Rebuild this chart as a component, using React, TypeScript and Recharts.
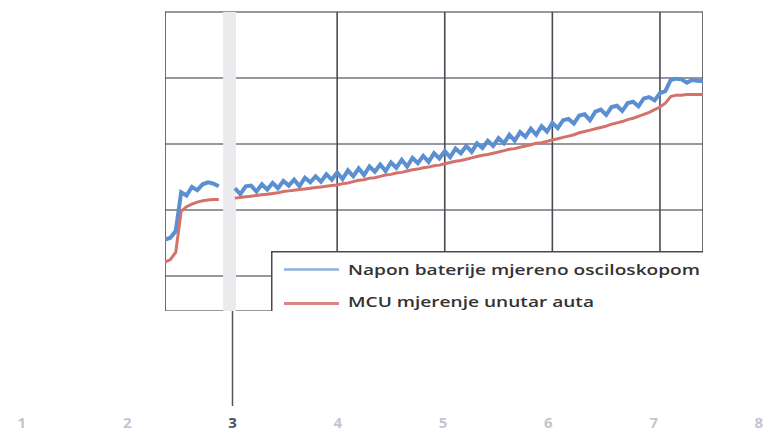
import React from "react";
import { LineChart, Line, XAxis, YAxis, CartesianGrid, ReferenceArea, Legend } from "recharts";

// sample times (x axis units, the visible crop runs from 2.4 to 7.4)
const time = [
  2.4, 2.45, 2.5, 2.55, 2.6, 2.65, 2.7, 2.75, 2.8, 2.85,
  2.9, 2.95, 3.0, 3.05, 3.1, 3.15, 3.2, 3.25, 3.3, 3.35,
  3.4, 3.45, 3.5, 3.55, 3.6, 3.65, 3.7, 3.75, 3.8, 3.85,
  3.9, 3.95, 4.0, 4.05, 4.1, 4.15, 4.2, 4.25, 4.3, 4.35,
  4.4, 4.45, 4.5, 4.55, 4.6, 4.65, 4.7, 4.75, 4.8, 4.85,
  4.9, 4.95, 5.0, 5.05, 5.1, 5.15, 5.2, 5.25, 5.3, 5.35,
  5.4, 5.45, 5.5, 5.55, 5.6, 5.65, 5.7, 5.75, 5.8, 5.85,
  5.9, 5.95, 6.0, 6.05, 6.1, 6.15, 6.2, 6.25, 6.3, 6.35,
  6.4, 6.45, 6.5, 6.55, 6.6, 6.65, 6.7, 6.75, 6.8, 6.85,
  6.9, 6.95, 7.0, 7.05, 7.1, 7.15, 7.2, 7.25, 7.3, 7.35,
  7.4,
];

// battery voltage measured with the oscilloscope (with its periodic dips);
// null where the grey strip hides the trace
const oscilloscope = [
  10.55, 10.58, 10.68, 11.27, 11.22, 11.35, 11.3, 11.39, 11.42, 11.4,
  11.36, null, null, 11.33, 11.24, 11.36, 11.37, 11.28, 11.39, 11.31,
  11.41, 11.33, 11.44, 11.37, 11.46, 11.36, 11.49, 11.42, 11.51, 11.43,
  11.54, 11.46, 11.57, 11.47, 11.6, 11.51, 11.63, 11.53, 11.66, 11.58,
  11.69, 11.59, 11.72, 11.64, 11.76, 11.66, 11.79, 11.71, 11.82, 11.73,
  11.86, 11.78, 11.89, 11.8, 11.93, 11.86, 11.97, 11.88, 12.01, 11.94,
  12.05, 11.97, 12.09, 12.01, 12.14, 12.05, 12.18, 12.11, 12.23, 12.14,
  12.27, 12.19, 12.32, 12.24, 12.36, 12.38, 12.31, 12.43, 12.45, 12.36,
  12.49, 12.52, 12.44, 12.56, 12.58, 12.5, 12.62, 12.64, 12.57, 12.69,
  12.71, 12.66, 12.77, 12.8, 12.97, 12.99, 12.98, 12.93, 12.97, 12.96,
  12.95,
];

// MCU measurement inside the car
const mcu = [
  10.21, 10.25, 10.36, 10.98, 11.05, 11.09, 11.12, 11.14, 11.15, 11.16,
  11.16, null, null, 11.18, 11.19, 11.2, 11.21, 11.22, 11.23, 11.24,
  11.25, 11.26, 11.28, 11.29, 11.3, 11.31, 11.32, 11.33, 11.34, 11.35,
  11.36, 11.37, 11.38, 11.4, 11.41, 11.43, 11.45, 11.46, 11.48, 11.49,
  11.51, 11.53, 11.54, 11.56, 11.57, 11.59, 11.61, 11.62, 11.64, 11.65,
  11.67, 11.68, 11.7, 11.72, 11.74, 11.75, 11.77, 11.79, 11.81, 11.83,
  11.84, 11.86, 11.88, 11.9, 11.92, 11.93, 11.95, 11.97, 11.99, 12.01,
  12.02, 12.04, 12.06, 12.08, 12.1, 12.12, 12.14, 12.17, 12.19, 12.21,
  12.23, 12.25, 12.27, 12.3, 12.32, 12.34, 12.37, 12.39, 12.42, 12.45,
  12.48, 12.52, 12.56, 12.62, 12.72, 12.74, 12.74, 12.75, 12.75, 12.75,
  12.75,
];

const seriesNames = ["Napon baterije mjereno osciloskopom", "MCU mjerenje unutar auta"];
const gridTicksX = [3, 4, 5, 6, 7];
const gridTicksY = [10, 11, 12, 13, 14];
const axisTicks = [1, 2, 3, 4, 5, 6, 7, 8];

const BLUE = "#5a8fd2";
const RED = "#d4716b";

const data = time.map((t, i) => ({ t, osc: oscilloscope[i], mcu: mcu[i] }));
const tickRows = axisTicks.map((t) => ({ t }));

function LegendBox() {
  return (
    <svg width={500} height={80} style={{ display: "block" }}>
      <rect x={0.75} y={0.75} width={520} height={100} fill="#fff" stroke="#4a4a4a" strokeWidth={1.5} />
      <line x1={13} x2={68} y1={18.5} y2={18.5} stroke="#8db2dc" strokeWidth={2.5} />
      <line x1={13} x2={68} y1={52.5} y2={52.5} stroke="#d98582" strokeWidth={3} />
      <text x={77} y={23.5} fontFamily="Open Sans" fontWeight={600} fontSize={14.5} fill="#333"
        textLength={352} lengthAdjust="spacingAndGlyphs">{seriesNames[0]}</text>
      <text x={77} y={55.5} fontFamily="Open Sans" fontWeight={600} fontSize={14.5} fill="#333"
        textLength={246} lengthAdjust="spacingAndGlyphs">{seriesNames[1]}</text>
    </svg>
  );
}

// tick 3 keeps its long tick mark reaching up to the plot crop
function AxisTick(props: any) {
  const { x, y, payload } = props;
  const main = payload.value === 3;
  const last = payload.value === 8;
  return (
    <g>
      {main && <line x1={x} x2={x} y1={y - 95} y2={y} stroke="#555" strokeWidth={1.5} />}
      <text x={last ? x + 4 : x} y={y} dy={22} textAnchor={last ? "end" : "middle"} fontFamily="Open Sans"
        fontWeight={700} fontSize={15} fill={main ? "#4b5066" : "#c3c6d0"}>
        {payload.value}
      </text>
    </g>
  );
}

export default function App() {
  return (
    <div style={{ position: "absolute", left: 0, top: 0, width: 763, height: 432, background: "#fff" }}>
      <div style={{ position: "absolute", left: 0, top: 0 }}>
        <LineChart width={763} height={432} data={tickRows} margin={{ top: 311, right: 0, bottom: 0, left: 0 }}>
          <XAxis dataKey="t" type="number" domain={[0.792, 8.038]} ticks={axisTicks} allowDataOverflow height={26}
            axisLine={false} tickLine={false} tickSize={0} tickMargin={0} interval={0} tick={<AxisTick />} />
          <YAxis hide domain={[0, 1]} />
        </LineChart>
      </div>
      <div style={{ position: "absolute", left: 165, top: 0, width: 538, height: 311, overflow: "hidden" }}>
        <LineChart width={538} height={311} data={data} margin={{ top: 12, right: 0, bottom: 0, left: 0 }}>
          <CartesianGrid horizontal={true} vertical={false} stroke="#75757f" strokeWidth={1.3} />
          <CartesianGrid horizontal={false} vertical={true} stroke="#4a4a52" strokeWidth={1.6} />
          <XAxis dataKey="t" type="number" domain={[2.4, 7.4]} ticks={gridTicksX} allowDataOverflow hide />
          <YAxis type="number" domain={[9.47, 14]} ticks={gridTicksY} allowDataOverflow hide />
          <ReferenceArea x1={2.94} x2={3.06} fill="#ebebee" fillOpacity={1} stroke="none" ifOverflow="visible" />
          <Line type="linear" dataKey="osc" name={seriesNames[0]} stroke={BLUE} strokeWidth={4}
            dot={false} isAnimationActive={false} />
          <Line type="linear" dataKey="mcu" name={seriesNames[1]} stroke={RED} strokeWidth={3}
            dot={false} isAnimationActive={false} />
          <Legend layout="horizontal" verticalAlign="middle" align="center" content={<LegendBox />}
            wrapperStyle={{ position: "absolute", left: 106, top: 251, width: 500, height: 80 }} />
        </LineChart>
      </div>
    </div>
  );
}
